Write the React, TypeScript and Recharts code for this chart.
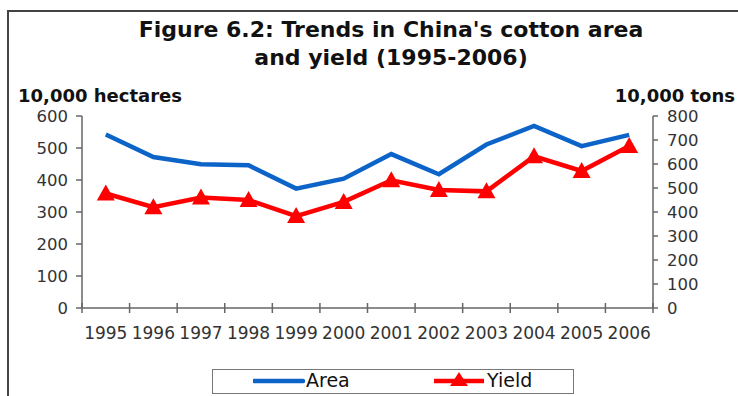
import React from 'react';
import { LineChart, Line, XAxis, YAxis, Legend } from 'recharts';

const years = ['1995', '1996', '1997', '1998', '1999', '2000', '2001', '2002', '2003', '2004', '2005', '2006'];
// 10,000 hectares
const areaValues = [542, 472, 449, 446, 373, 404, 481, 418, 511, 569, 506, 541];
// 10,000 tons
const yieldValues = [477, 420, 460, 450, 383, 442, 532, 492, 486, 632, 571, 675];
const leftTicks = [0, 100, 200, 300, 400, 500, 600];
const rightTicks = [0, 100, 200, 300, 400, 500, 600, 700, 800];

const BLUE = '#0d64c8';
const RED = '#ff0000';
const AXIS = '#666666';
const TEXT = '#333333';
const FONT = '"DejaVu Sans", sans-serif';

const data = years.map((year, i) => ({ x: i, year, area: areaValues[i], yield: yieldValues[i] }));

// labels on whole positions, divider ticks on the half positions between years
const xTicks: number[] = [];
for (let i = -0.5; i <= years.length - 0.5; i += 0.5) xTicks.push(i);

const YearTick = (props: any) => {
  const { x, y, payload } = props;
  const v = payload.value as number;
  if (Number.isInteger(v)) {
    return (
      <text x={x} y={y + 31} textAnchor="middle" fill={TEXT} fontSize={17} fontFamily={FONT}>
        {years[v]}
      </text>
    );
  }
  return <line x1={x} x2={x} y1={y - 5} y2={y + 5} stroke={AXIS} strokeWidth={1.5} />;
};

const Triangle = (props: any) => {
  const { cx, cy } = props;
  if (cx == null || cy == null) return null;
  return <polygon points={`${cx},${cy - 9} ${cx - 9},${cy + 7} ${cx + 9},${cy + 7}`} fill={RED} />;
};

const LegendBox = () => (
  <div
    style={{
      position: 'absolute',
      left: 212,
      top: 369,
      width: 362,
      height: 25,
      border: '1.5px solid #777',
      boxSizing: 'border-box',
      fontFamily: FONT,
      fontSize: 19,
      color: '#111',
    }}
  >
    <svg width={52} height={10} style={{ position: 'absolute', left: 40, top: 6 }}>
      <line x1={1} x2={50} y1={5} y2={5} stroke={BLUE} strokeWidth={4.5} strokeLinecap="round" />
    </svg>
    <span style={{ position: 'absolute', left: 93, top: -1 }}>Area</span>
    <svg width={54} height={20} style={{ position: 'absolute', left: 220, top: 1 }}>
      <line x1={1} x2={51} y1={10} y2={10} stroke={RED} strokeWidth={4.5} />
      <polygon points="26,1 17,15 35,15" fill={RED} />
    </svg>
    <span style={{ position: 'absolute', left: 274, top: -1 }}>Yield</span>
  </div>
);

export default function App() {
  return (
    <div style={{ position: 'absolute', left: 0, top: 0, width: 738, height: 396, background: '#fff', overflow: 'hidden' }}>
      <div
        style={{
          position: 'absolute',
          left: 7,
          top: 10,
          width: 800,
          height: 500,
          borderTop: '2px solid #444',
          borderLeft: '2px solid #444',
        }}
      />
      <svg width={738} height={110} style={{ position: 'absolute', left: 0, top: 0 }}>
        <g fontFamily={FONT} fontWeight="bold" fill="#111">
          <text x={391} y={37} fontSize={22} textAnchor="middle">
            Figure 6.2: Trends in China's cotton area
          </text>
          <text x={391} y={65} fontSize={22} textAnchor="middle">
            and yield (1995-2006)
          </text>
          <text x={18} y={102} fontSize={18}>
            10,000 hectares
          </text>
          <text x={735} y={102} fontSize={18} textAnchor="end">
            10,000 tons
          </text>
        </g>
      </svg>
      <div style={{ position: 'absolute', left: 0, top: 0 }}>
        <LineChart width={738} height={396} data={data} margin={{ top: 116, right: 0, left: 0, bottom: 48 }}>
          <XAxis
            xAxisId="top"
            orientation="top"
            dataKey="x"
            type="number"
            domain={[-0.5, years.length - 0.5]}
            height={0}
            tick={false}
            tickLine={false}
            axisLine={{ stroke: AXIS, strokeWidth: 1.5 }}
          />
          <XAxis
            xAxisId="year"
            dataKey="x"
            type="number"
            domain={[-0.5, years.length - 0.5]}
            ticks={xTicks}
            interval={0}
            height={40}
            tickSize={0}
            tickMargin={0}
            tickLine={false}
            tick={<YearTick />}
            axisLine={{ stroke: AXIS, strokeWidth: 1.5 }}
          />
          <YAxis
            yAxisId="area"
            width={82}
            domain={[0, 600]}
            ticks={leftTicks}
            interval={0}
            tickSize={6}
            tickMargin={8}
            tick={{ fill: TEXT, fontSize: 16.5, fontFamily: FONT }}
            tickLine={{ stroke: AXIS, strokeWidth: 1.5 }}
            axisLine={{ stroke: AXIS, strokeWidth: 1.5 }}
          />
          <YAxis
            yAxisId="yield"
            orientation="right"
            width={85}
            domain={[0, 800]}
            ticks={rightTicks}
            interval={0}
            tickSize={5}
            tickMargin={9}
            tick={{ fill: TEXT, fontSize: 16.5, fontFamily: FONT }}
            tickLine={{ stroke: AXIS, strokeWidth: 1.5 }}
            axisLine={{ stroke: AXIS, strokeWidth: 1.5 }}
          />
          <Line
            xAxisId="year"
            yAxisId="area"
            dataKey="area"
            name="Area"
            type="linear"
            stroke={BLUE}
            strokeWidth={4.5}
            dot={false}
            isAnimationActive={false}
          />
          <Line
            xAxisId="year"
            yAxisId="yield"
            dataKey="yield"
            name="Yield"
            type="linear"
            stroke={RED}
            strokeWidth={4.5}
            dot={<Triangle />}
            isAnimationActive={false}
          />
          <Legend content={() => null} />
        </LineChart>
      </div>
      <LegendBox />
    </div>
  );
}
